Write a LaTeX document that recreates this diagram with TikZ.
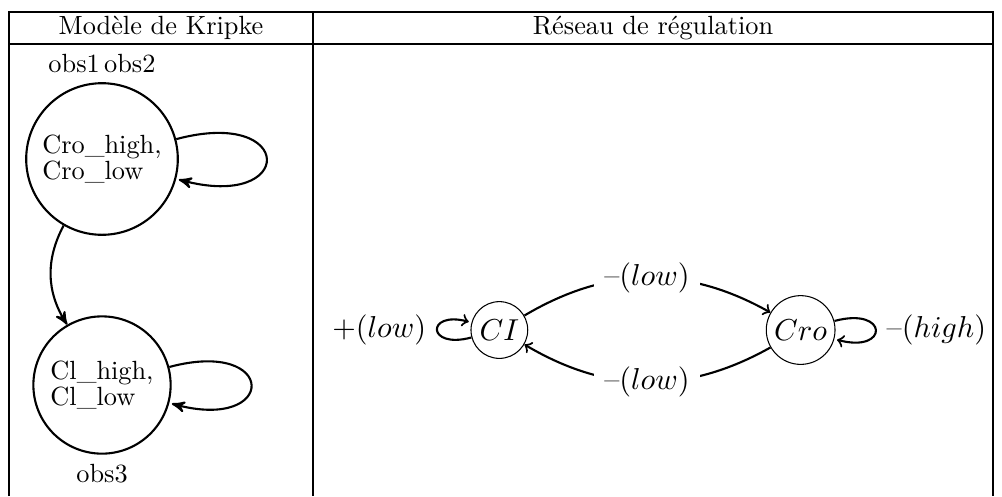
\documentclass[tikz,border=0pt]{standalone}
\usetikzlibrary{arrows}
\usetikzlibrary{automata}
\usetikzlibrary{positioning}

\begin{document}
\begin{tikzpicture}[x=0.38pt,y=0.38pt,
    kstate/.style={draw,thick,circle,align=left,font=\fontsize{10pt}{8.3pt}\selectfont},
    rstate/.style={draw,circle,inner sep=1.5pt},
    rlabel/.style={fill=white}]

  \useasboundingbox (0,0) rectangle (1002,-496);

  % table frame
  \draw [thin] (9,-496) |- (993,-12) -- (993,-496);
  \draw [thin] (9,-44) -- (993,-44);
  \draw [thin] (313,-12) -- (313,-496);

  \node (hkripke) at (161,-28) {Mod\`ele de Kripke};
  \node (hreseau) at (653,-28) {R\'eseau de r\'egulation};

  % Kripke model
  \node [kstate,label=above:obs1\,obs2] (s1) at (102,-159) {Cro\_high,\\Cro\_low};
  \node [kstate,label=below:obs3]       (s2) at (102,-385) {Cl\_high,\\Cl\_low};

  \path [draw,thick,->,>=stealth']
    (s1) edge [loop right] ()
    (s1) edge [bend right] (s2)
    (s2) edge [loop right] ();

  % regulatory network
  \begin{scope}[shift={(650,-330)},scale=1.15,transform shape]
    \node [rstate] (ci)  at (-131,0) {$CI$};
    \node [rstate] (cro) at (131,0)  {$Cro$};

    \path [draw,thick,->]
      (ci)  edge [loop left]  node [left] {+($low$)} ()
      (ci)  edge [bend left]  node [rlabel] {--($low$)} (cro)
      (cro) edge [bend left]  node [rlabel] {--($low$)} (ci)
      (cro) edge [loop right] node [right] {--($high$)} ();
  \end{scope}

\end{tikzpicture}
\end{document}
